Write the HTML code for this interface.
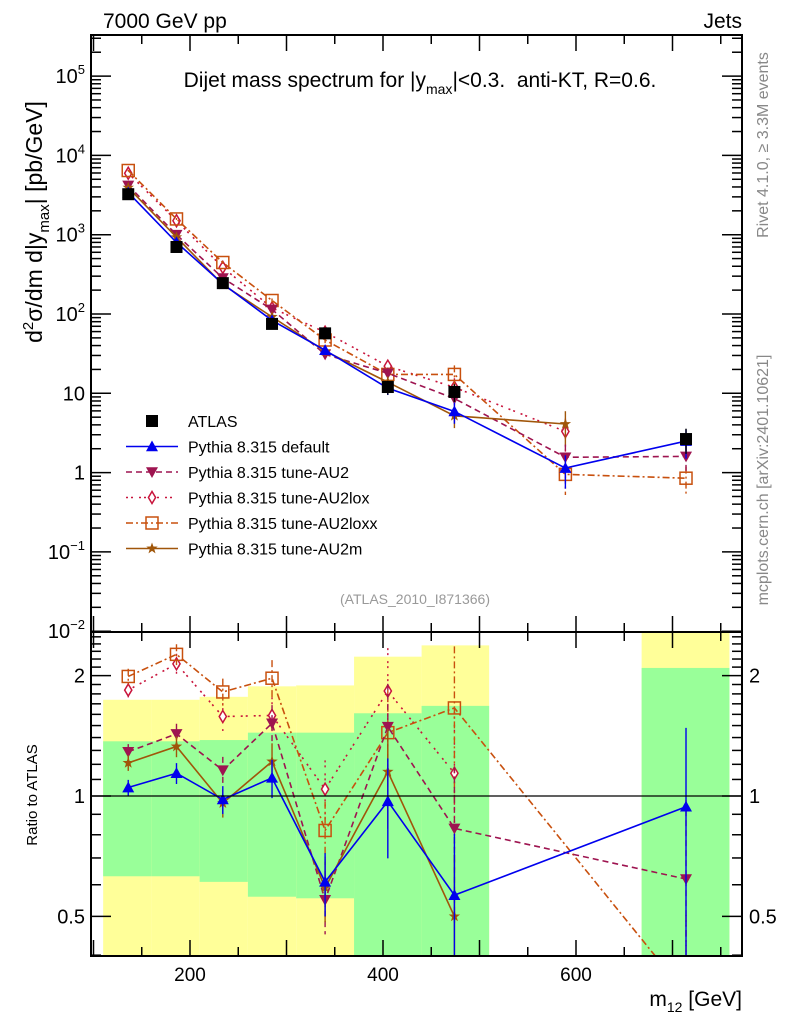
<!DOCTYPE html>
<html><head><meta charset="utf-8">
<style>
html,body{margin:0;background:#fff;overflow:hidden;width:786px;height:1024px;}
svg{display:block;font-family:"Liberation Sans",sans-serif;overflow:hidden;}
</style></head>
<body>
<svg id="chart" width="786" height="1024" viewBox="0 0 786 1024" xmlns="http://www.w3.org/2000/svg">
<defs>
<clipPath id="clipMain"><rect x="91" y="35" width="651" height="597"/></clipPath>
<clipPath id="clipRatio"><rect x="91" y="632" width="651" height="324"/></clipPath>
</defs>
<g id="bands" clip-path="url(#clipRatio)"></g>
<g id="marks"></g>
<g id="axes"></g>
<text x="103" y="28" font-size="21">7000 GeV pp</text>
<text x="742" y="28" font-size="21" text-anchor="end">Jets</text>
<text x="420" y="87" font-size="21" text-anchor="middle" xml:space="preserve">Dijet mass spectrum for |y<tspan font-size="14" dy="7">max</tspan><tspan dy="-7">|&lt;0.3.  anti-KT, R=0.6.</tspan></text>
<text x="415" y="604" font-size="14" fill="#999" text-anchor="middle">(ATLAS_2010_I871366)</text>
<text transform="translate(768,145) rotate(-90)" font-size="16" fill="#888" text-anchor="middle">Rivet 4.1.0, ≥ 3.3M events</text>
<text transform="translate(768,480) rotate(-90)" font-size="16" fill="#888" text-anchor="middle">mcplots.cern.ch [arXiv:2401.10621]</text>
<text transform="translate(42,222) rotate(-90)" font-size="23" text-anchor="middle">d<tspan font-size="15" dy="-9">2</tspan><tspan dy="9">σ/dm d|y</tspan><tspan font-size="15" dy="7">max</tspan><tspan dy="-7">| [pb/GeV]</tspan></text>
<text transform="translate(37,795) rotate(-90)" font-size="15" text-anchor="middle">Ratio to ATLAS</text>
<text x="742" y="1006" font-size="21" text-anchor="end">m<tspan font-size="14" dy="6">12</tspan><tspan dy="-6"> [GeV]</tspan></text>
<g id="legend"></g>
</svg>
<script>
const masses = [136, 186, 234, 285, 340, 405, 474, 589, 714];
const atlasVals = [3240, 700, 245, 75, 57, 12, 10.4, null, 2.65];
const atlasErr = [0.05, 0.06, 0.08, 0.1, 0.12, 0.2, 0.25, null, 0.35];
const defaultVals = [3400, 800, 240, 83, 35, 11.6, 5.9, 1.14, 2.5];
const au2Vals = [4180, 1000, 284, 114, 31, 17.9, 8.6, 1.56, 1.6];
const loxVals = [5960, 1500, 387, 119, 59, 22, 11.9, 3.3, null];
const loxxVals = [6450, 1580, 446, 148, 47, 17.3, 17.3, 0.95, 0.85];
const au2mVals = [3920, 930, 235, 92, 34, 13.8, 5.2, 4.1, null];
const defaultRatio = [1.05, 1.14, 0.98, 1.11, 0.61, 0.97, 0.565, null, 0.94];
const au2Ratio = [1.29, 1.43, 1.16, 1.52, 0.55, 1.49, 0.83, null, 0.62];
const loxRatio = [1.84, 2.14, 1.58, 1.59, 1.04, 1.83, 1.14, null, null];
const loxxRatio = [1.99, 2.26, 1.82, 1.97, 0.82, 1.44, 1.66, null, 0.32];
const au2mRatio = [1.21, 1.33, 0.96, 1.22, 0.59, 1.15, 0.50, null, null];
const mcRelErr = [0.02, 0.03, 0.04, 0.06, 0.12, 0.18, 0.3, 0.45, 0.4];
const binEdgesLo = [110, 160, 210, 260, 310, 370, 440, 668];
const binEdgesHi = [160, 210, 260, 310, 370, 440, 510, 759];
const greenHi = [1.37, 1.37, 1.38, 1.44, 1.44, 1.61, 1.68, 2.09];
const greenLo = [0.63, 0.63, 0.61, 0.56, 0.555, 0.4, 0.4, 0.4];
const yellowHi = [1.74, 1.74, 1.77, 1.88, 1.89, 2.23, 2.38, 2.56];
const yellowLo = [0.4, 0.4, 0.4, 0.4, 0.4, 0.4, 0.4, 0.4];
const mainTicks = ["10^5", "10^4", "10^3", "10^2", "10", "1", "10^-1", "10^-2"];
const mainTickVals = [1e5, 1e4, 1e3, 100, 10, 1, 0.1, 0.01];
const ratioTickVals = [2, 1, 0.5];
const ratioTickLabels = ["2", "1", "0.5"];
const xTickVals = [200, 400, 600];
const xTickLabels = ["200", "400", "600"];

const NS = "http://www.w3.org/2000/svg";
const X0 = 91, X1 = 742, MT = 35, MB = 632, RB = 956;
function clampY(y, lo, hi){ return Math.max(lo, Math.min(hi, y)); }
function xs(m){ return 190 + (m - 200) * 0.965; }
function ym(v){ return 472.6 - 79.3 * Math.log10(v); }
function yr(r){ return 796 - 400 * Math.log10(r); }
function mk(tag, attrs, parent){ const e = document.createElementNS(NS, tag); for (const k in attrs) e.setAttribute(k, attrs[k]); parent.appendChild(e); return e; }

const bands = document.getElementById('bands');
binEdgesLo.forEach((lo, i) => {
  const hi = binEdgesHi[i];
  const yt = clampY(yr(yellowHi[i]), MB, RB), yb = clampY(yr(yellowLo[i]), MB, RB);
  const y = mk('rect', {x: xs(lo), y: yt, width: xs(hi) - xs(lo), height: yb - yt, fill: '#ffff99'}, bands);
  
  
  const gt = clampY(yr(greenHi[i]), MB, RB), gb = clampY(yr(greenLo[i]), MB, RB);
  const g = mk('rect', {x: xs(lo), y: gt, width: xs(hi) - xs(lo), height: gb - gt, fill: '#99ff99'}, bands);
  
  
});

const axes = document.getElementById('axes');
const f1 = mk('rect', {x: X0, y: MT, width: X1 - X0, height: MB - MT, fill: 'none', stroke: '#000', 'stroke-width': 2}, axes);


const f2 = mk('rect', {x: X0, y: MB, width: X1 - X0, height: RB - MB, fill: 'none', stroke: '#000', 'stroke-width': 2}, axes);


const one = mk('line', {x1: X0, x2: X1, y1: yr(1), y2: yr(1), stroke: '#000', 'stroke-width': 1.2}, axes);


for (let m = 100; m <= 770; m += 50) {
  const len = (m % 100 === 0) ? 16 : 9;
  [[MT, 1], [MB, -1], [MB, 1], [RB, -1]].forEach(([yy, d]) => {
    mk('line', {x1: xs(m), x2: xs(m), y1: yy, y2: yy + d * len, stroke: '#000', 'stroke-width': 1.5}, axes);
  });
}
xTickVals.forEach((v, i) => {
  const t = mk('text', {x: xs(v), y: 981, 'font-size': 19, 'text-anchor': 'middle'}, axes);
  t.textContent = xTickLabels[i];
  
  
});
for (let e = -2; e <= 5; e++) {
  for (let k = 1; k <= 9; k++) {
    const v = k * Math.pow(10, e);
    const y = ym(v);
    if (y < MT || y > MB) continue;
    const len = k === 1 ? 20 : 10;
    mk('line', {x1: X0, x2: X0 + len, y1: y, y2: y, stroke: '#000', 'stroke-width': 1.5}, axes);
    mk('line', {x1: X1, x2: X1 - len, y1: y, y2: y, stroke: '#000', 'stroke-width': 1.5}, axes);
  }
}
mainTickVals.forEach((v, i) => {
  const lab = mainTicks[i];
  const t = mk('text', {x: 85, y: ym(v) + 7, 'font-size': 20, 'text-anchor': 'end'}, axes);
  if (lab.indexOf('^') >= 0) {
    const [b, p] = lab.split('^');
    t.innerHTML = b + '<tspan font-size="13" dy="-9">' + p.replace('-', '−') + '</tspan>';
  } else t.textContent = lab;
  
  
});
[0.4,0.5,0.6,0.7,0.8,0.9,1,1.1,1.2,1.3,1.4,1.5,1.6,1.7,1.8,1.9,2,2.1,2.2,2.3,2.4,2.5].forEach(v => {
  const y = yr(v);
  if (y < MB || y > RB) return;
  const major = (v === 0.5 || v === 1 || v === 2);
  const len = major ? 20 : 10;
  mk('line', {x1: X0, x2: X0 + len, y1: y, y2: y, stroke: '#000', 'stroke-width': 1.5}, axes);
  mk('line', {x1: X1, x2: X1 - len, y1: y, y2: y, stroke: '#000', 'stroke-width': 1.5}, axes);
});
ratioTickVals.forEach((v, i) => {
  [[85, 'end'], [749, 'start']].forEach(([x, a]) => {
    const t = mk('text', {x: x, y: yr(v) + 7, 'font-size': 20, 'text-anchor': a}, axes);
    t.textContent = ratioTickLabels[i];
    
    
  });
});

const marks = document.getElementById('marks');
const mainG = mk('g', {'clip-path': 'url(#clipMain)'}, marks);
const ratG = mk('g', {'clip-path': 'url(#clipRatio)'}, marks);
function marker(type, x, y, color, parent, s){
  s = s || 6;
  let e;
  if (type === 'square') e = mk('rect', {x: x - s, y: y - s, width: 2 * s, height: 2 * s, fill: '#000'}, parent);
  else if (type === 'tri-up') e = mk('polygon', {points: `${x},${y - s} ${x - s},${y + s * 0.8} ${x + s},${y + s * 0.8}`, fill: color}, parent);
  else if (type === 'tri-down') e = mk('polygon', {points: `${x},${y + s} ${x - s},${y - s * 0.8} ${x + s},${y - s * 0.8}`, fill: color}, parent);
  else if (type === 'diamond') e = mk('polygon', {points: `${x},${y - s} ${x - s * 0.6},${y} ${x},${y + s} ${x + s * 0.6},${y}`, fill: '#fff', stroke: color, 'stroke-width': 1.5}, parent);
  else if (type === 'open-square') e = mk('rect', {x: x - s, y: y - s, width: 2 * s, height: 2 * s, fill: 'none', stroke: color, 'stroke-width': 1.5}, parent);
  else if (type === 'star') {
    let pts = [];
    for (let i = 0; i < 10; i++) { const r = i % 2 ? s * 0.4 : s; const a = -Math.PI / 2 + i * Math.PI / 5; pts.push((x + r * Math.cos(a)) + ',' + (y + r * Math.sin(a))); }
    e = mk('polygon', {points: pts.join(' '), fill: color}, parent);
  }
  return e;
}
function drawSeries(name, vals, ratio, color, dash, mtype){
  const pts = [];
  masses.forEach((m, i) => { if (vals[i] != null) pts.push([xs(m), ym(vals[i]), vals[i]]); });
  const pl = mk('polyline', {points: pts.map(p => p[0] + ',' + p[1]).join(' '), fill: 'none', stroke: color, 'stroke-width': 1.6, 'stroke-dasharray': dash}, mainG);
  
  
  masses.forEach((m, i) => {
    if (vals[i] == null) return;
    const e = mcRelErr[i];
    mk('line', {x1: xs(m), x2: xs(m), y1: clampY(ym(vals[i] * (1 + e)), MT, MB), y2: clampY(ym(vals[i] * (1 - e)), MT, MB), stroke: color, 'stroke-width': 1.4, 'stroke-dasharray': dash}, mainG);
    const mm = marker(mtype, xs(m), ym(vals[i]), color, mainG);
    
    
  });
  const rp = [];
  masses.forEach((m, i) => { if (ratio[i] != null) rp.push([xs(m), yr(ratio[i]), i]); });
  // clip segment ends to frame bottom to keep within page
  const rpts = [];
  rp.forEach((p, k) => {
    if (p[1] <= RB) { rpts.push(p[0] + ',' + p[1]); return; }
    const prev = rp[k - 1];
    if (prev) { const t = (RB - prev[1]) / (p[1] - prev[1]); rpts.push((prev[0] + t * (p[0] - prev[0])) + ',' + RB); }
  });
  const rl = mk('polyline', {points: rpts.join(' '), fill: 'none', stroke: color, 'stroke-width': 1.6, 'stroke-dasharray': dash}, ratG);
  
  
  masses.forEach((m, i) => {
    if (ratio[i] == null) return;
    const e = mcRelErr[i] + (atlasErr[i] || 0) * 0.5;
    const y1 = clampY(yr(ratio[i] * (1 + e)), MB, RB), y2 = clampY(yr(Math.max(ratio[i] * (1 - e), 0.05)), MB, RB);
    mk('line', {x1: xs(m), x2: xs(m), y1: y1, y2: y2, stroke: color, 'stroke-width': 1.4, 'stroke-dasharray': dash}, ratG);
    if (yr(ratio[i]) > RB) return;
    const mm = marker(mtype, xs(m), yr(ratio[i]), color, ratG);
    
    
  });
}
const seriesColors = ['#0000ee', '#9e1450', '#c8143c', '#c8500e', '#a0560a'];
drawSeries('au2lox', loxVals, loxRatio, seriesColors[2], '2,3,2,6', 'diamond');
drawSeries('au2loxx', loxxVals, loxxRatio, seriesColors[3], '7,3,2,3', 'open-square');
drawSeries('au2', au2Vals, au2Ratio, seriesColors[1], '6,4', 'tri-down');
drawSeries('au2m', au2mVals, au2mRatio, seriesColors[4], '', 'star');
drawSeries('default', defaultVals, defaultRatio, seriesColors[0], '', 'tri-up');
masses.forEach((m, i) => {
  if (atlasVals[i] == null) return;
  const e = atlasErr[i];
  mk('line', {x1: xs(m), x2: xs(m), y1: ym(atlasVals[i] * (1 + e)), y2: ym(atlasVals[i] * (1 - e)), stroke: '#000', 'stroke-width': 1.4}, mainG);
  const sq = marker('square', xs(m), ym(atlasVals[i]), '#000', mainG);
  
  
});

const legend = document.getElementById('legend');
const legNames = ['ATLAS', 'Pythia 8.315 default', 'Pythia 8.315 tune-AU2', 'Pythia 8.315 tune-AU2lox', 'Pythia 8.315 tune-AU2loxx', 'Pythia 8.315 tune-AU2m'];
const legTypes = ['square', 'tri-up', 'tri-down', 'diamond', 'open-square', 'star'];
const legColors = ['#000', seriesColors[0], seriesColors[1], seriesColors[2], seriesColors[3], seriesColors[4]];
const legDash = ['', '', '6,4', '2,3,2,6', '7,3,2,3', ''];
legNames.forEach((n, i) => {
  const y = 421 + i * 25.5;
  const g = mk('g', {}, legend);
  
  
  if (i > 0) mk('line', {x1: 126, x2: 178, y1: y, y2: y, stroke: legColors[i], 'stroke-width': 1.6, 'stroke-dasharray': legDash[i]}, g);
  marker(legTypes[i], 152, y, legColors[i], g);
  const t = mk('text', {x: 188, y: y + 6, 'font-size': 16}, g);
  t.textContent = n;
});
</script>
</body></html>
